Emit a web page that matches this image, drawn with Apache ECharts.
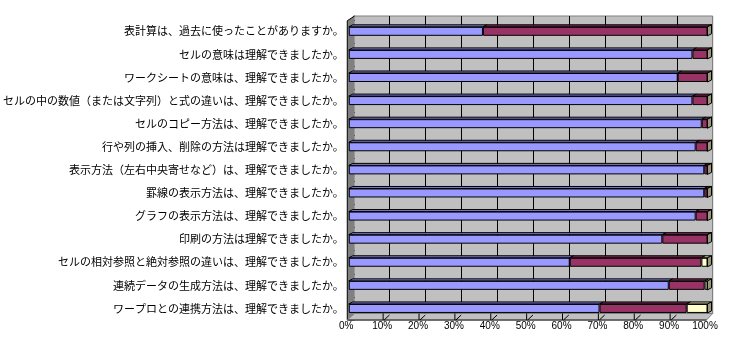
<!DOCTYPE html>
<html>
<head>
<meta charset="utf-8">
<script src="https://cdn.jsdelivr.net/npm/echarts@6/dist/echarts.min.js"></script>
<style>
  html, body { margin: 0; padding: 0; background: #fff; }
  #chart { width: 729px; height: 353px; }
</style>
</head>
<body>
<div id="chart"></div>
<script>
// 設問
var categories = [
  '表計算は、過去に使ったことがありますか。',
  'セルの意味は理解できましたか。',
  'ワークシートの意味は、理解できましたか。',
  'セルの中の数値（または文字列）と式の違いは、理解できましたか。',
  'セルのコピー方法は、理解できましたか。',
  '行や列の挿入、削除の方法は理解できましたか。',
  '表示方法（左右中央寄せなど）は、理解できましたか。',
  '罫線の表示方法は、理解できましたか。',
  'グラフの表示方法は、理解できましたか。',
  '印刷の方法は理解できましたか。',
  'セルの相対参照と絶対参照の違いは、理解できましたか。',
  '連続データの生成方法は、理解できましたか。',
  'ワープロとの連携方法は、理解できましたか。'
];
// 回答の割合(%)
var yesValues  = [37.4, 95.8, 91.7, 95.8, 98.4, 96.7, 99.1, 99.1, 96.7, 87.4, 61.6, 89.2, 69.9];
var noValues   = [62.6, 4.2, 8.3, 4.2, 1.6, 3.3, 0.9, 0.9, 3.3, 12.6, 36.7, 10.0, 24.3];
var restValues = [0, 0, 0, 0, 0, 0, 0, 0, 0, 0, 1.7, 0.8, 5.8];
var ticks = [0, 10, 20, 30, 40, 50, 60, 70, 80, 90, 100];

var seriesData = [yesValues, noValues, restValues];
var seriesNames = ['はい', 'いいえ', '無回答'];
var frontColors = ['#9999FF', '#993366', '#FFFFCC'];
var topColors = ['#7A7ACC', '#7A2952', '#CCCCA3'];
var sideColor = '#99997A';

var BAR_H = 9;   // 棒の太さ
var DX = 4, DY = 2;   // 棒の奥行き

// 上面・側面用のデータ [始点, 終点, 項目, 系列]
var faceData = [];
categories.forEach(function (c, i) {
  var s = 0;
  seriesData.forEach(function (arr, k) {
    faceData.push([s, s + arr[i], i, k]);
    s += arr[i];
  });
});

var myChart = echarts.init(document.getElementById('chart'));

function renderFaces(params, api) {
  var s = api.value(0), e = api.value(1), cat = api.value(2), k = api.value(3);
  var p0 = api.coord([s, cat]);
  var p1 = api.coord([e, cat]);
  var yt = p0[1] - BAR_H / 2, yb = p0[1] + BAR_H / 2;
  var children = [{
    type: 'polygon',
    shape: { points: [[p0[0], yt], [p1[0], yt], [p1[0] + DX, yt - DY], [p0[0] + DX, yt - DY]] },
    style: { fill: topColors[k], stroke: '#000', lineWidth: 1 }
  }];
  if (k === seriesData.length - 1) {
    children.push({
      type: 'polygon',
      shape: { points: [[p1[0], yt], [p1[0] + DX, yt - DY], [p1[0] + DX, yb - DY], [p1[0], yb]] },
      style: { fill: sideColor, stroke: '#000', lineWidth: 1 }
    });
  }
  return { type: 'group', children: children };
}

// 左壁と床
function renderFrame(params, api) {
  var cs = params.coordSys;
  var v = api.value(0);
  var fb = cs.y + cs.height;      // 床の手前
  var bb = fb - 6.5;              // 床の奥
  var x = api.coord([v, 0])[0];
  var fx = x - 1.5, bx = x + 5.8;
  var children = [];
  if (v === ticks[0]) {
    var left = cs.x - 1.5, right = cs.x + cs.width - 1;
    children.push({
      type: 'polygon',
      shape: { points: [[left, cs.y + 1], [cs.x + 5.8, 16], [cs.x + 5.8, bb], [left, fb]] },
      style: { fill: '#808080' }
    });
    children.push({
      type: 'polyline',
      shape: { points: [[cs.x + 5.8, 16], [left, cs.y + 1], [left, fb]] },
      style: { stroke: '#000', lineWidth: 1, fill: null }
    });
    children.push({
      type: 'polygon',
      shape: { points: [[left, fb], [right, fb], [right + 6.2, bb], [cs.x + 5.8, bb]] },
      style: { fill: '#C0C0C0', stroke: '#808080', lineWidth: 1 }
    });
    children.push({
      type: 'line',
      shape: { x1: left, y1: fb, x2: right, y2: fb },
      style: { stroke: '#555', lineWidth: 1.5 }
    });
  } else if (v !== ticks[ticks.length - 1]) {
    children.push({
      type: 'line',
      shape: { x1: fx, y1: bb, x2: fx, y2: fb },
      style: { stroke: '#000', lineWidth: 1 }
    });
    children.push({
      type: 'line',
      shape: { x1: fx + 1, y1: fb, x2: bx - 1, y2: bb + 1.5 },
      style: { stroke: '#000', lineWidth: 1 }
    });
  }
  return { type: 'group', children: children };
}

var splitColors = ticks.map(function (t, i) {
  return (i === 0 || i === ticks.length - 1) ? '#808080' : '#000';
});

var series = seriesData.map(function (arr, k) {
  return {
    name: seriesNames[k],
    type: 'bar',
    stack: 'total',
    barWidth: BAR_H,
    xAxisIndex: 0,
    yAxisIndex: 0,
    z: 3,
    itemStyle: { color: frontColors[k], borderColor: '#000', borderWidth: 1 },
    emphasis: { disabled: true },
    data: arr
  };
});
series.push({
  type: 'custom',
  name: 'faces',
  xAxisIndex: 0,
  yAxisIndex: 0,
  z: 4,
  renderItem: renderFaces,
  encode: { x: [0, 1], y: 2 },
  silent: true,
  data: faceData
});
series.push({
  type: 'custom',
  name: 'frame',
  xAxisIndex: 0,
  yAxisIndex: 0,
  z: 1,
  renderItem: renderFrame,
  encode: { x: 0 },
  silent: true,
  data: ticks.map(function (t) { return [t]; })
});

var option = {
  animation: false,
  grid: [
    { left: 347.5, right: 21.5, top: 19.75, bottom: 33 },
    { left: 353.3, right: 16.3, top: 16, bottom: 39.5, show: true,
      backgroundColor: '#C0C0C0', borderColor: '#808080', borderWidth: 1, z: 0 }
  ],
  xAxis: [
    {
      type: 'value', gridIndex: 0, min: 0, max: 100, interval: 10,
      axisLine: { show: false }, axisTick: { show: false }, splitLine: { show: false },
      axisLabel: {
        formatter: '{value}%', color: '#000', fontSize: 10, margin: 1,
        fontFamily: 'Liberation Sans', padding: [0, 5, 0, 0]
      }
    },
    {
      type: 'value', gridIndex: 1, min: 0, max: 100, interval: 10,
      axisLine: { show: false }, axisTick: { show: false }, axisLabel: { show: false },
      splitLine: { show: true, lineStyle: { color: splitColors, width: 1 } }
    }
  ],
  yAxis: [
    {
      type: 'category', gridIndex: 0, inverse: true, data: categories,
      axisLine: { show: false },
      axisTick: { show: true, inside: true, length: 6, lineStyle: { color: '#000' } },
      axisLabel: {
        color: '#000', fontSize: 11, margin: 5, padding: [2, 0, 0, 0],
        fontFamily: '"Noto Sans CJK JP", sans-serif'
      }
    },
    {
      type: 'value', gridIndex: 1, show: false
    }
  ],
  series: series
};

myChart.setOption(option);
</script>
</body>
</html>
